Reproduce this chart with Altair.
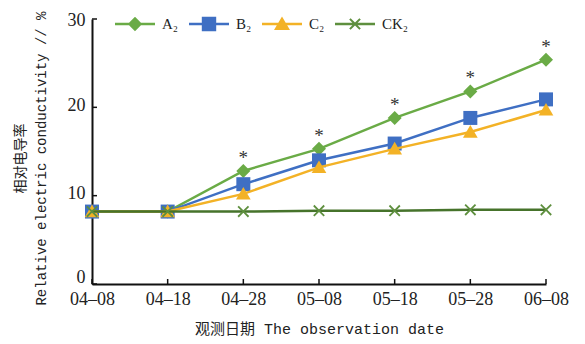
import math
import altair as alt
import pandas as pd

dates = ["04–08", "04–18", "04–28", "05–08", "05–18", "05–28", "06–08"]
series = ["A₂", "B₂", "C₂", "CK₂"]
a2 = [8.2, 8.2, 12.8, 15.3, 18.8, 21.8, 25.4]
b2 = [8.2, 8.2, 11.3, 14.0, 15.9, 18.8, 20.9]
c2 = [8.2, 8.2, 10.2, 13.2, 15.3, 17.2, 19.7]
ck2 = [8.2, 8.2, 8.2, 8.3, 8.3, 8.4, 8.4]
sig = ["", "", "*", "*", "*", "*", "*"]
y_ticks = [0, 10, 20, 30]

line_colors = ["#6AAB46", "#3F6FC3", "#F3B226", "#46732B"]
mark_colors = ["#6AAB46", "#3F6FC3", "#F3B226", "#5E8F3E"]

rows = []
for s, vals in zip(series, [a2, b2, c2, ck2]):
    for d, v in zip(dates, vals):
        rows.append({"date": d, "series": s, "value": v})
df = pd.DataFrame(rows)
sig_df = pd.DataFrame({"date": dates, "value": a2, "sig": sig})
ytick_df = pd.DataFrame({"v": y_ticks})
xtick_df = pd.DataFrame({"date": dates})


def fmt(pts):
    return "M" + "L".join(f"{x:.3f},{y:.3f}" for x, y in pts) + "Z"


def diamond(h):
    return fmt([(0, -h), (h, 0), (0, h), (-h, 0)])


def square(h):
    return fmt([(-h, -h), (h, -h), (h, h), (-h, h)])


def triangle(h):
    return fmt([(0, -h), (h * 1.05, h * 0.8), (-h * 1.05, h * 0.8)])


def xshape(a, w):
    pts = [(-w, -a), (w, -a), (w, -w), (a, -w), (a, w), (w, w), (w, a),
           (-w, a), (-w, w), (-a, w), (-a, -w), (-w, -w)]
    r = 1 / math.sqrt(2)
    return fmt([((x - y) * r, (x + y) * r) for x, y in pts])


def bar(t):
    return fmt([(-1, -t), (1, -t), (1, t), (-1, t)])


plot_shapes = [diamond(1), square(1), triangle(1), xshape(1.05, 0.13)]
lb = bar(0.065)
legend_shapes = [lb + diamond(0.36), lb + square(0.36), lb + triangle(0.38),
                 lb + xshape(0.36, 0.05)]

label_offset = {
    "condition": [
        {"test": "datum.value == 0", "value": -7},
        {"test": "datum.value == 30", "value": 1},
    ],
    "value": -2,
}

W, H = 454, 265
X = alt.X("date:O", sort=dates, scale=alt.Scale(type="point", padding=0),
          axis=alt.Axis(title="观测日期 The observation date", labelAngle=0,
                        tickSize=0, labelPadding=6, titleY=44,
                        titleBaseline="middle", domainWidth=2,
                        domainColor="#111"))
Y = alt.Y("value:Q", scale=alt.Scale(domain=[0, 30], nice=False),
          axis=alt.Axis(title=["相对电导率", "Relative electric conductivity // %"],
                        values=y_ticks, tickSize=0, labelPadding=7,
                        grid=False, titleAngle=-90, titleX=-72, titleY=139,
                        titleBaseline="middle", titleLineHeight=21,
                        domainWidth=2, domainColor="#111",
                        labelOffset=label_offset,
                        titleFont="'Liberation Mono', 'Noto Sans CJK SC'",
                        titleFontSize=14))

base = alt.Chart(df)
layers = []
for s, lc, mc, shp in zip(series, line_colors, mark_colors, plot_shapes):
    sub = base.transform_filter(alt.datum.series == s)
    layers.append(sub.mark_line(strokeWidth=2.5).encode(x=X, y=Y, color=alt.value(lc)))
    layers.append(sub.mark_point(filled=True, opacity=1, size=196).encode(
        x=X, y=Y, color=alt.value(mc), shape=alt.value(shp)))

stars = alt.Chart(sig_df).mark_text(font="Liberation Serif", fontSize=19,
                                    color="#333", baseline="middle", dy=-13).encode(
    x=X, y=Y, text="sig:N")

ytick = alt.Chart(ytick_df).mark_rule(color="#111", strokeWidth=1.5).encode(
    y=alt.Y("v:Q", scale=alt.Scale(domain=[0, 30], nice=False)),
    x=alt.value(0), x2=alt.value(5))
xtick = alt.Chart(xtick_df).mark_rule(color="#111", strokeWidth=1.5).encode(
    x=alt.X("date:O", sort=dates, scale=alt.Scale(type="point", padding=0)),
    y=alt.value(H), y2=alt.value(H - 5))

leg = alt.Legend(title=None, orient="none", legendX=23, legendY=-15,
                 direction="horizontal", columns=4, symbolSize=1600,
                 symbolStrokeWidth=0, labelOffset=7, columnPadding=10,
                 padding=0, labelFont="Liberation Serif", labelFontSize=15,
                 labelColor="#222")
legend_layer = base.transform_filter("false").mark_point(filled=True, opacity=1).encode(
    x=X, y=Y,
    color=alt.Color("series:N", scale=alt.Scale(domain=series, range=mark_colors),
                    legend=leg),
    shape=alt.Shape("series:N", scale=alt.Scale(domain=series, range=legend_shapes),
                    legend=leg),
)

chart = alt.layer(*layers, stars, ytick, xtick, legend_layer).properties(
    width=W, height=H,
    autosize=alt.AutoSizeParams(type="none"),
    padding={"left": 84, "top": 11, "right": 30, "bottom": 56},
    background="white",
).configure_view(stroke=None).configure_axis(
    labelFont="Liberation Serif", labelFontSize=18, labelColor="#222",
    titleFont="'Liberation Mono', 'Noto Sans CJK SC'", titleFontSize=15,
    titleColor="#222", titleFontWeight="normal",
)

chart.save("out.html", embed_options={"renderer": "svg", "actions": False})
